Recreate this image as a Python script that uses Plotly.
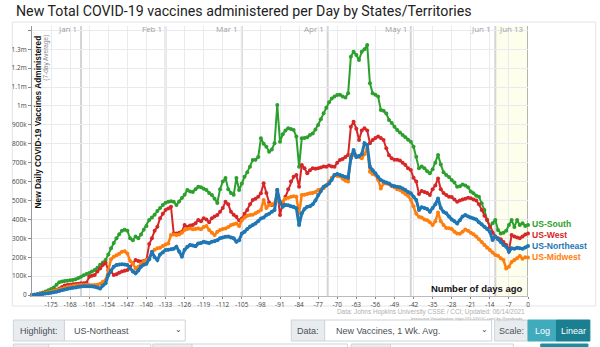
import plotly.graph_objects as go

# ---------------- data (values in thousands, days ago -182 .. 0) ----------------
south_k = [
    0, 2, 5, 9, 14, 19, 26, 32, 40, 55,
    68, 72, 74, 76, 78, 80, 84, 90, 97, 105,
    112, 116, 125, 132, 145, 160, 172, 185, 215, 248,
    275, 300, 322, 340, 345, 340, 300, 290, 310, 300,
    320, 345, 365, 397, 410, 425, 445, 460, 476, 488,
    494, 496, 494, 476, 495, 513, 530, 556, 548, 545,
    560, 573, 570, 562, 556, 540, 529, 510, 487, 560,
    600, 619, 560, 540, 530, 619, 556, 590, 626, 650,
    679, 714, 716, 730, 829, 800, 785, 758, 770, 803,
    1005, 811, 850, 870, 882, 878, 873, 838, 679, 829,
    830, 835, 847, 855, 875, 899, 930, 961, 990, 1020,
    1040, 1050, 1058, 1060, 1050, 1045, 1067, 1261, 1287, 1270,
    1243, 1287, 1300, 1323, 1120, 1067, 1060, 1050, 979, 975,
    960, 926, 910, 890, 873, 860, 847, 835, 822, 811,
    785, 732, 670, 680, 670, 655, 644, 665, 700, 741,
    690, 650, 635, 625, 608, 595, 573, 575, 585, 580,
    570, 548, 538, 525, 520, 485, 450, 397, 361, 380,
    397, 344, 326, 330, 340, 370, 397, 360, 397, 370,
    380, 365, 370,
]
west_k = [
    0, 1, 3, 6, 9, 12, 15, 18, 22, 28,
    35, 42, 50, 53, 55, 57, 58, 60, 62, 63,
    65, 97, 102, 106, 125, 141, 160, 171, 132, 125,
    106, 110, 118, 125, 128, 132, 150, 170, 185, 180,
    178, 180, 185, 270, 300, 340, 361, 406, 430, 450,
    458, 467, 326, 326, 330, 335, 370, 360, 368, 370,
    380, 397, 390, 406, 400, 385, 406, 415, 423, 440,
    460, 494, 480, 441, 425, 414, 395, 405, 430, 450,
    480, 503, 510, 520, 538, 591, 540, 490, 476, 480,
    556, 423, 485, 520, 560, 600, 626, 635, 573, 688,
    670, 644, 660, 670, 668, 670, 675, 680, 678, 685,
    680, 678, 700, 714, 720, 730, 741, 890, 917, 880,
    820, 870, 882, 870, 803, 820, 830, 838, 830, 820,
    776, 740, 723, 715, 715, 712, 700, 688, 670, 661,
    620, 600, 534, 550, 545, 540, 529, 560, 580, 617,
    560, 540, 529, 520, 518, 505, 494, 500, 505, 510,
    515, 512, 505, 500, 480, 450, 420, 397, 360, 330,
    308, 300, 295, 280, 265, 238, 317, 310, 305, 300,
    310, 320, 326,
]
northeast_k = [
    0, 1, 2, 4, 6, 8, 10, 12, 15, 18,
    22, 26, 30, 33, 36, 38, 40, 44, 45, 46,
    46, 47, 46, 44, 40, 35, 50, 62, 106, 130,
    150, 159, 162, 163, 162, 159, 140, 125, 115, 130,
    150, 160, 165, 190, 229, 200, 185, 215, 225, 238,
    240, 242, 245, 256, 230, 203, 240, 255, 265, 262,
    258, 273, 275, 282, 278, 275, 282, 285, 290, 300,
    305, 308, 310, 305, 300, 282, 290, 326, 335, 350,
    362, 370, 379, 390, 405, 410, 423, 430, 440, 450,
    556, 490, 467, 476, 475, 470, 467, 459, 370, 432,
    455, 467, 470, 480, 500, 529, 550, 573, 580, 590,
    610, 635, 640, 635, 630, 625, 620, 723, 767, 730,
    735, 745, 803, 794, 679, 660, 644, 625, 608, 600,
    595, 590, 580, 575, 573, 570, 564, 555, 545, 538,
    520, 503, 450, 465, 460, 455, 441, 460, 480, 511,
    460, 440, 432, 415, 400, 390, 379, 395, 415, 423,
    415, 410, 405, 400, 385, 375, 361, 350, 335, 291,
    310, 295, 280, 265, 256, 229, 247, 245, 250, 248,
    245, 252, 259,
]
midwest_k = [
    0, 1, 3, 5, 8, 11, 15, 18, 22, 26,
    30, 34, 38, 42, 45, 48, 50, 52, 53, 53,
    54, 53, 52, 53, 55, 60, 70, 79, 130, 189,
    203, 210, 218, 229, 232, 220, 180, 168, 141, 150,
    165, 176, 185, 195, 225, 240, 247, 250, 260, 268,
    273, 317, 320, 317, 320, 330, 344, 350, 352, 348,
    350, 352, 348, 360, 365, 344, 330, 317, 335, 344,
    350, 352, 360, 370, 375, 379, 365, 395, 410, 420,
    423, 425, 432, 440, 450, 503, 460, 476, 480, 485,
    503, 485, 495, 510, 515, 520, 522, 520, 432, 529,
    530, 535, 538, 540, 545, 555, 560, 565, 580, 600,
    620, 635, 630, 628, 615, 605, 600, 741, 741, 735,
    730, 723, 745, 776, 652, 640, 635, 610, 564, 590,
    590, 588, 575, 570, 560, 555, 545, 535, 525, 503,
    470, 430, 414, 410, 400, 395, 385, 370, 390, 436,
    390, 370, 355, 353, 350, 335, 326, 324, 335, 347,
    340, 330, 322, 310, 295, 280, 265, 250, 238, 225,
    212, 208, 195, 185, 141, 150, 175, 185, 195, 206,
    192, 200, 199,
]
n = len(south_k)
days_ago = list(range(-(n - 1), 1))

series_names = ["US-South", "US-West", "US-Midwest", "US-Northeast"]
series_values = [south_k, west_k, midwest_k, northeast_k]
series_colors = ["#2ca02c", "#d62728", "#ff7f0e", "#1f77b4"]
series_widths = [2, 2, 2.5, 3]
label_shift_px = [1.5, -1.5, 0, 0]   # small vertical nudges so end labels don't collide

y_tick_vals = [i * 100000 for i in range(15)]
y_tick_text = ["0", "100k", "200k", "300k", "400k", "500k", "600k", "700k",
               "800k", "900k", "1m", "1.1m", "1.2m", "1.3m", ""]
x_tick_vals = list(range(-175, 1, 7))
x_tick_text = [str(v) for v in x_tick_vals]

month_labels = ["Jan 1", "Feb 1", "Mar 1", "Apr 1", "May 1", "Jun 1", "Jun 13"]
month_days = [-164, -133, -105, -73.5, -43, -12, 0]

# ---------------- layout geometry (pixels) ----------------
W, H = 600, 347
L, R, T, B = 23, 528, 26, 296
Y_LO, Y_HI = -5000, 1423000


def px(x):
    return (x - L) / (R - L)


def py(y):
    return (B - y) / (B - T)


fig = go.Figure()

for name, vals, col, lw in zip(series_names, series_values, series_colors, series_widths):
    fig.add_trace(go.Scatter(
        x=days_ago, y=[v * 1000 for v in vals], mode="lines+markers", name=name,
        line=dict(color=col, width=lw), marker=dict(color=col, size=4),
        cliponaxis=False, showlegend=False, hoverinfo="skip"))

shapes = []
annotations = []

# outer frame
shapes.append(dict(type="rect", xref="paper", yref="paper", x0=px(3), x1=px(597),
                   y0=py(306), y1=py(22), line=dict(color="#e4e4e4", width=1), layer="below"))
# recent-days shading
shapes.append(dict(type="rect", xref="x", yref="paper", x0=month_days[5], x1=month_days[6],
                   y0=0, y1=1, fillcolor="rgba(250,250,190,0.28)", line=dict(width=0), layer="below"))
# month lines
for d, lab in zip(month_days, month_labels):
    last = (lab == month_labels[-1])
    shapes.append(dict(type="line", xref="x", yref="paper", x0=d, x1=d, y0=0, y1=1,
                       line=dict(color="#9a9a9a" if last else "#d4d4d4", width=1.5 if last else 2),
                       layer="below"))
    annotations.append(dict(x=d, y=py(29), xref="x", yref="paper", text=lab, showarrow=False,
                            xanchor="right", yanchor="middle", xshift=-2,
                            font=dict(family="Open Sans", size=8, color="#a0a0a0")))

# axis titles
annotations.append(dict(x=px(29), y=py(33), xref="paper", yref="paper", textangle=-90,
                        text="<b>New Daily COVID-19 Vaccines Administered</b>", showarrow=False,
                        xanchor="center", yanchor="top",
                        font=dict(family="Liberation Sans", size=8.3, color="#111")))
annotations.append(dict(x=px(37), y=py(33), xref="paper", yref="paper", textangle=-90,
                        text="(7-day Average)", showarrow=False, xanchor="center", yanchor="top",
                        font=dict(family="Liberation Sans", size=6.5, color="#888")))
annotations.append(dict(x=px(525), y=py(288), xref="paper", yref="paper",
                        text="<b>Number of days ago</b>", showarrow=False,
                        xanchor="right", yanchor="middle",
                        font=dict(family="Liberation Sans", size=9.5, color="#111")))

# series end labels
for name, vals, col, sh in zip(series_names, series_values, series_colors, label_shift_px):
    annotations.append(dict(x=days_ago[-1], y=vals[-1] * 1000, xref="x", yref="y", text="<b>%s</b>" % name,
                            showarrow=False, xanchor="left", yanchor="middle", xshift=2, yshift=sh,
                            font=dict(family="Liberation Sans", size=8.6, color=col)))

# source text
annotations.append(dict(x=px(527), y=py(311.5), xref="paper", yref="paper",
                        text="Data: Johns Hopkins University CSSE / CCI; Updated: 06/14/2021",
                        showarrow=False, xanchor="right", yanchor="middle",
                        font=dict(family="Liberation Sans", size=6.4, color="#b0b0b0")))
annotations.append(dict(x=px(527), y=py(318), xref="paper", yref="paper",
                        text="Interactive Visualization: https://91-DIVOC.com/ by @profwade_",
                        showarrow=False, xanchor="right", yanchor="middle",
                        font=dict(family="Liberation Sans", size=4, color="#aaa")))

# title
annotations.append(dict(x=px(5), y=py(11), xref="paper", yref="paper",
                        text="New Total COVID-19 vaccines administered per Day by States/Territories",
                        showarrow=False, xanchor="left", yanchor="middle",
                        font=dict(family="Roboto", size=14.2, color="#222")))


# ---------------- control bar (decorative) ----------------
def box(x0, x1, y0, y1, fill, line="#ced4da"):
    shapes.append(dict(type="rect", xref="paper", yref="paper", x0=px(x0), x1=px(x1),
                       y0=py(y1), y1=py(y0), fillcolor=fill, line=dict(color=line, width=1)))


def label(x, y, text, anchor="left", color="#495057", size=9):
    annotations.append(dict(x=px(x), y=py(y), xref="paper", yref="paper", text=text,
                            showarrow=False, xanchor=anchor, yanchor="middle",
                            font=dict(family="Liberation Sans", size=size, color=color)))


cy0, cy1 = 320, 341
box(4, 56, cy0, cy1, "#e9ecef")
box(56, 179, cy0, cy1, "#ffffff")
label(30, 330.5, "Highlight:", "center")
label(64, 330.5, "US-Northeast")
label(172, 329.5, "⌄", "center", size=8)
box(287, 321, cy0, cy1, "#e9ecef")
box(321, 491, cy0, cy1, "#ffffff")
label(304, 330.5, "Data:", "center")
label(330, 330.5, "New Vaccines, 1 Wk. Avg.")
label(484, 329.5, "⌄", "center", size=8)
box(494, 528, cy0, cy1, "#e9ecef")
label(511, 330.5, "Scale:", "center")
box(528, 557, cy0, cy1, "#3fabbd", line="#3fabbd")
box(557, 591, cy0, cy1, "#1a7f90", line="#1a7f90")
label(542.5, 330.5, "Log", "center", color="#ffffff")
label(574, 330.5, "Linear", "center", color="#ffffff")
# second row (cut off at bottom)
box(4, 40, 344, 352, "#e9ecef")
box(40, 144, 344, 352, "#ffffff")
box(146, 186, 344, 352, "#e9ecef")
box(186, 344, 344, 352, "#ffffff")
box(348, 388, 344, 352, "#e9ecef")
box(388, 513, 344, 352, "#ffffff")
box(541, 589, 344, 352, "#1a8fa0", line="#1a8fa0")

fig.update_layout(
    width=W, height=H, margin=dict(l=L, r=W - R, t=T, b=H - B),
    paper_bgcolor="white", plot_bgcolor="white",
    shapes=shapes, annotations=annotations,
    xaxis=dict(range=[days_ago[0], 0], tickvals=x_tick_vals, ticktext=x_tick_text,
               showgrid=True, gridcolor="#e9e9f0", gridwidth=1, zeroline=False,
               ticks="outside", ticklen=2, tickcolor="#888", showline=True, linecolor="#bbb",
               tickfont=dict(family="Open Sans", size=6.4, color="#444")),
    yaxis=dict(range=[Y_LO, Y_HI], tickvals=y_tick_vals, ticktext=y_tick_text,
               showgrid=True, gridcolor="#e9e9f0", gridwidth=1, zeroline=False,
               ticks="outside", ticklen=3, tickcolor="#888", showline=True, linecolor="#999",
               tickfont=dict(family="Open Sans", size=6.5, color="#444")),
)

fig.write_html("out.html")
